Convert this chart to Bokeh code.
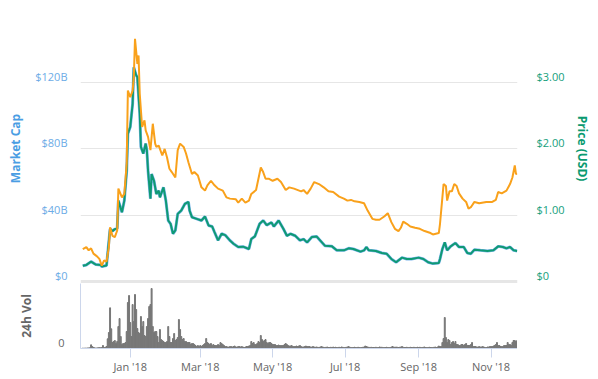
import pandas as pd
from bokeh.plotting import figure
from bokeh.models import Range1d, FixedTicker, DatetimeTickFormatter, Span, LinearAxis
from bokeh.layouts import column
from bokeh.embed import file_html
from bokeh.resources import INLINE

# ---------------- data ----------------
usd_dates = [
    "2017-11-22", "2017-11-25", "2017-11-29", "2017-12-03", "2017-12-07", "2017-12-08", "2017-12-12",
    "2017-12-15", "2017-12-17", "2017-12-19", "2017-12-21", "2017-12-22", "2017-12-25", "2017-12-27",
    "2017-12-29", "2017-12-30", "2018-01-01", "2018-01-03", "2018-01-04", "2018-01-06", "2018-01-07",
    "2018-01-09", "2018-01-10", "2018-01-12", "2018-01-14", "2018-01-15", "2018-01-16", "2018-01-18",
    "2018-01-19", "2018-01-21", "2018-01-23", "2018-01-25", "2018-01-26", "2018-01-29", "2018-01-31",
    "2018-02-02", "2018-02-04", "2018-02-06", "2018-02-08", "2018-02-10", "2018-02-13", "2018-02-16",
    "2018-02-19", "2018-02-20", "2018-02-22", "2018-02-26", "2018-03-02", "2018-03-05", "2018-03-08",
    "2018-03-11", "2018-03-13", "2018-03-16", "2018-03-19", "2018-03-22", "2018-03-26", "2018-03-29",
    "2018-04-02", "2018-04-06", "2018-04-11", "2018-04-13", "2018-04-16", "2018-04-20", "2018-04-23",
    "2018-04-26", "2018-04-30", "2018-05-02", "2018-05-06", "2018-05-10", "2018-05-13", "2018-05-16",
    "2018-05-20", "2018-05-24", "2018-05-27", "2018-05-30", "2018-06-03", "2018-06-07", "2018-06-10",
    "2018-06-14", "2018-06-20", "2018-06-24", "2018-06-30", "2018-07-04", "2018-07-08", "2018-07-14",
    "2018-07-17", "2018-07-19", "2018-07-21", "2018-07-27", "2018-08-01", "2018-08-05", "2018-08-09",
    "2018-08-13", "2018-08-18", "2018-08-22", "2018-08-26", "2018-09-01", "2018-09-05", "2018-09-09",
    "2018-09-13", "2018-09-18", "2018-09-19", "2018-09-21", "2018-09-23", "2018-09-25", "2018-09-28",
    "2018-10-02", "2018-10-05", "2018-10-09", "2018-10-12", "2018-10-15", "2018-10-18", "2018-10-23",
    "2018-10-29", "2018-11-03", "2018-11-07", "2018-11-11", "2018-11-14", "2018-11-17", "2018-11-20",
    "2018-11-23",
]
price_usd = [
    0.237, 0.25, 0.30, 0.255, 0.25, 0.226, 0.24,
    0.795, 0.76, 0.79, 0.80, 1.22, 1.045, 1.22,
    1.67, 2.23, 2.33, 2.68, 3.23, 3.11, 3.08,
    2.53, 2.03, 1.93, 2.08, 1.98, 1.67, 1.25,
    1.62, 1.52, 1.32, 1.37, 1.27, 1.42, 1.22,
    0.92, 0.87, 0.72, 0.77, 1.02, 1.07, 1.17,
    1.20, 1.07, 0.97, 0.945, 0.92, 0.98, 0.845,
    0.83, 0.745, 0.62, 0.72, 0.70, 0.62, 0.57,
    0.52, 0.525, 0.49, 0.64, 0.68, 0.87, 0.92,
    0.85, 0.89, 0.83, 0.92, 0.795, 0.69, 0.72,
    0.69, 0.62, 0.64, 0.59, 0.67, 0.68, 0.62,
    0.54, 0.53, 0.47, 0.47, 0.50, 0.49, 0.45,
    0.47, 0.52, 0.47, 0.46, 0.43, 0.42, 0.34,
    0.29, 0.36, 0.34, 0.34, 0.36, 0.34, 0.29,
    0.27, 0.28, 0.34, 0.49, 0.59, 0.47, 0.53,
    0.58, 0.52, 0.52, 0.43, 0.42, 0.48, 0.47,
    0.46, 0.47, 0.53, 0.52, 0.50, 0.52, 0.47,
    0.46,
]
# market cap, billions of USD (same dates)
market_cap = [
    9.5, 10.0, 12.0, 10.2, 10.0, 9.0, 9.6,
    31.8, 30.4, 31.6, 32.0, 48.8, 41.8, 48.8,
    66.8, 89.2, 93.2, 107.2, 129.2, 124.4, 123.2,
    101.2, 81.2, 77.2, 83.2, 79.2, 66.8, 50.0,
    64.8, 60.8, 52.8, 54.8, 50.8, 56.8, 48.8,
    36.8, 34.8, 28.8, 30.8, 40.8, 42.8, 46.8,
    48.0, 42.8, 38.8, 37.8, 36.8, 39.2, 33.8,
    33.2, 29.8, 24.8, 28.8, 28.0, 24.8, 22.8,
    20.8, 21.0, 19.6, 25.6, 27.2, 34.8, 36.8,
    34.0, 35.6, 33.2, 36.8, 31.8, 27.6, 28.8,
    27.6, 24.8, 25.6, 23.6, 26.8, 27.2, 24.8,
    21.6, 21.2, 18.8, 18.8, 20.0, 19.6, 18.0,
    18.8, 20.8, 18.8, 18.4, 17.2, 16.8, 13.6,
    11.6, 14.4, 13.6, 13.6, 14.4, 13.6, 11.6,
    10.8, 11.2, 13.6, 19.6, 23.6, 18.8, 21.2,
    23.2, 20.8, 20.8, 17.2, 16.8, 19.2, 18.8,
    18.4, 18.8, 21.2, 20.8, 20.0, 20.8, 18.8,
    18.4,
]

btc_dates = [
    "2017-11-22", "2017-11-25", "2017-11-27", "2017-11-29", "2017-12-01", "2017-12-04", "2017-12-06",
    "2017-12-08", "2017-12-10", "2017-12-12", "2017-12-14", "2017-12-15", "2017-12-17", "2017-12-19",
    "2017-12-21", "2017-12-22", "2017-12-25", "2017-12-27", "2017-12-29", "2017-12-30", "2018-01-01",
    "2018-01-03", "2018-01-04", "2018-01-05", "2018-01-07", "2018-01-08", "2018-01-09", "2018-01-11",
    "2018-01-13", "2018-01-14", "2018-01-16", "2018-01-18", "2018-01-20", "2018-01-22", "2018-01-23",
    "2018-01-25", "2018-01-28", "2018-01-30", "2018-02-01", "2018-02-03", "2018-02-05", "2018-02-08",
    "2018-02-10", "2018-02-12", "2018-02-15", "2018-02-17", "2018-02-19", "2018-02-22", "2018-02-24",
    "2018-02-27", "2018-03-02", "2018-03-05", "2018-03-07", "2018-03-10", "2018-03-13", "2018-03-16",
    "2018-03-20", "2018-03-23", "2018-03-26", "2018-03-31", "2018-04-02", "2018-04-05", "2018-04-08",
    "2018-04-11", "2018-04-13", "2018-04-17", "2018-04-19", "2018-04-21", "2018-04-23", "2018-04-25",
    "2018-04-28", "2018-05-01", "2018-05-05", "2018-05-08", "2018-05-12", "2018-05-15", "2018-05-19",
    "2018-05-25", "2018-05-27", "2018-05-30", "2018-06-02", "2018-06-05", "2018-06-09", "2018-06-13",
    "2018-06-17", "2018-06-21", "2018-06-26", "2018-06-30", "2018-07-03", "2018-07-06", "2018-07-09",
    "2018-07-13", "2018-07-17", "2018-07-20", "2018-07-24", "2018-07-27", "2018-07-30", "2018-08-03",
    "2018-08-06", "2018-08-09", "2018-08-12", "2018-08-15", "2018-08-17", "2018-08-19", "2018-08-22",
    "2018-08-25", "2018-08-29", "2018-09-02", "2018-09-06", "2018-09-11", "2018-09-13", "2018-09-18",
    "2018-09-19", "2018-09-21", "2018-09-22", "2018-09-24", "2018-09-25", "2018-09-27", "2018-09-29",
    "2018-10-01", "2018-10-03", "2018-10-05", "2018-10-08", "2018-10-11", "2018-10-13", "2018-10-15",
    "2018-10-18", "2018-10-22", "2018-10-28", "2018-11-02", "2018-11-05", "2018-11-07", "2018-11-10",
    "2018-11-14", "2018-11-17", "2018-11-19", "2018-11-21", "2018-11-22", "2018-11-23",
]
# price in satoshis (1e-8 BTC)
price_btc_sats = [
    2760, 2930, 2650, 2820, 2370, 2140, 1920,
    1350, 1800, 1690, 2930, 4620, 3890, 3780,
    4340, 7900, 7160, 7450, 10040, 16240, 15680,
    16240, 17370, 20640, 18500, 19230, 15960, 13140,
    13700, 12860, 12300, 11170, 13420, 11730, 11450,
    11560, 10720, 11280, 10550, 9590, 9310, 8850,
    11170, 11730, 11450, 10890, 10150, 9140, 9310,
    9020, 8010, 7730, 8180, 8570, 8180, 7900,
    7730, 7160, 7050, 6990, 6710, 7050, 6710,
    6880, 7450, 7780, 8740, 9700, 9310, 8740,
    8740, 8570, 8740, 8460, 7780, 8010, 7900,
    7670, 7780, 7450, 7900, 8460, 8290, 8010,
    7670, 7610, 7220, 7050, 6880, 6940, 6820,
    6770, 6660, 6030, 5330, 5250, 5250, 5530,
    5810, 5050, 4480, 4290, 4570, 5100, 4910,
    4680, 4570, 4480, 4290, 4120, 4000, 4120,
    4910, 7160, 8290, 8120, 6880, 7670, 7670,
    8290, 8120, 7500, 7050, 6770, 6200, 6320,
    6770, 6660, 6770, 6770, 6940, 7610, 7500,
    7730, 8290, 8850, 9870, 9140, 9190,
]

# 24h volume, millions of USD, one value per day; each month starts at the given date
vol_2017_11 = [60, 50, 80, 60, 80, 100, 130, 590, 320]
vol_2017_12 = [160, 110, 80, 100, 130, 140, 110, 160, 480, 160, 190, 320, 1550, 2560, 6510, 3150,
               960, 1120, 1280, 800, 1120, 3520, 4800, 1920, 640, 800, 800, 960, 2720, 7360, 8480]
vol_2018_01 = [4160, 1920, 7040, 4320, 8640, 6240, 3200, 2560, 2400, 5120, 3520, 4320, 2080, 1920,
               3520, 4800, 6720, 7040, 9600, 3520, 2560, 2720, 2720, 1920, 960, 3040, 1440, 1280,
               1120, 960, 960]
vol_2018_02 = [1120, 3520, 1920, 960, 960, 1600, 2400, 1280, 1440, 1760, 4640, 3040, 1920, 1440,
               1600, 1120, 1120, 960, 960, 960, 640, 800, 800, 640, 480, 320, 480, 320]
vol_2018_03 = [480, 320, 480, 640, 800, 1600, 960, 800, 640, 800, 480, 640, 480, 480, 480, 640,
               480, 960, 800, 640, 480, 320, 320, 240, 240, 320, 320, 240, 320, 400, 240]
vol_2018_04 = [240, 320, 320, 240, 320, 240, 160, 240, 320, 320, 400, 480, 1120, 800, 960, 640,
               640, 800, 1120, 960, 2080, 1440, 1120, 1280, 1440, 960, 800, 960, 960, 800]
vol_2018_05 = [640, 640, 640, 480, 480, 560, 480, 480, 480, 480, 640, 800, 640, 480, 400, 400,
               480, 320, 320, 320, 400, 320, 400, 480, 320, 240, 240, 320, 400, 320, 320]
vol_2018_06 = [320, 240, 240, 320, 240, 200, 240, 200, 160, 240, 320, 240, 200, 160, 200, 240,
               160, 160, 200, 160, 240, 160, 200, 160, 160, 200, 160, 240, 200, 160]
vol_2018_07 = [160, 200, 240, 320, 200, 160, 160, 160, 200, 160, 160, 200, 160, 120, 160, 200,
               240, 400, 320, 240, 200, 160, 200, 160, 160, 160, 200, 160, 160, 240, 200]
vol_2018_08 = [200, 160, 160, 160, 200, 160, 160, 160, 240, 320, 240, 200, 240, 200, 160, 200,
               240, 320, 200, 160, 160, 200, 160, 160, 200, 160, 160, 200, 160, 160, 200]
vol_2018_09 = [160, 200, 160, 160, 200, 240, 160, 160, 160, 200, 160, 160, 160, 200, 240, 160,
               240, 400, 320, 320, 960, 1600, 4960, 1760, 960, 1440, 1280, 640, 960, 1120]
vol_2018_10 = [800, 1120, 640, 640, 480, 480, 640, 640, 480, 640, 800, 480, 480, 480, 640, 960,
               320, 320, 320, 240, 240, 320, 240, 240, 320, 240, 160, 160, 240, 240, 320]
vol_2018_11 = [320, 320, 400, 480, 640, 960, 480, 480, 320, 320, 320, 480, 480, 480, 960, 640,
               640, 480, 960, 1280, 1280, 1120, 1280]
vol_months = [("2017-11-22", vol_2017_11), ("2017-12-01", vol_2017_12), ("2018-01-01", vol_2018_01),
              ("2018-02-01", vol_2018_02), ("2018-03-01", vol_2018_03), ("2018-04-01", vol_2018_04),
              ("2018-05-01", vol_2018_05), ("2018-06-01", vol_2018_06), ("2018-07-01", vol_2018_07),
              ("2018-08-01", vol_2018_08), ("2018-09-01", vol_2018_09), ("2018-10-01", vol_2018_10),
              ("2018-11-01", vol_2018_11)]

mcap_ticks = [0, 40, 80, 120]
mcap_tick_labels = ["$0", "$40B", "$80B", "$120B"]
price_ticks = [0, 1, 2, 3]
price_tick_labels = ["$0", "$1.00", "$2.00", "$3.00"]
vol_ticks = [0]
vol_tick_labels = ["0"]
month_ticks = ["2018-01-01", "2018-03-01", "2018-05-01", "2018-07-01", "2018-09-01", "2018-11-01"]
month_tick_labels = ["Jan '18", "Mar '18", "May '18", "Jul '18", "Sep '18", "Nov '18"]

# ---------------- geometry / style ----------------
FONT = "Open Sans"
FRAME_W = 437
PX_PER_USD = 66.3            # vertical pixels per $1.00 (= per $40B)
TOP_FRAME_H = 270            # frame spans 2px below the $0 line
VOL_FRAME_H = 65
X_START = pd.Timestamp("2017-11-20 02:00")
X_END = pd.Timestamp("2018-11-23 07:00")
USD_START = -2 / PX_PER_USD
USD_END = (TOP_FRAME_H - 2) / PX_PER_USD
LIFT_USD = 6 / PX_PER_USD    # tick labels sit just above their grid line
VOL_TOP = 10400
LIFT_VOL = 6 / VOL_FRAME_H * VOL_TOP

usd_dt = pd.to_datetime(usd_dates)
btc_dt = pd.to_datetime(btc_dates)
vol_dt, vol_vals = [], []
for start, vals in vol_months:
    vol_dt.extend(pd.date_range(start, periods=len(vals), freq="D"))
    vol_vals.extend(vals)

xr = Range1d(X_START, X_END)

# ---------------- top panel ----------------
p = figure(frame_width=FRAME_W, frame_height=TOP_FRAME_H, x_axis_type="datetime", x_range=xr,
           y_range=Range1d(USD_START * 40, USD_END * 40), output_backend="svg", toolbar_location=None,
           x_axis_location=None, min_border_left=80, min_border_right=0, min_border_top=13,
           min_border_bottom=0)
p.outline_line_color = None
p.extra_y_ranges = {"usd": Range1d(USD_START, USD_END),
                    "btc": Range1d(USD_START * 5640, USD_END * 5640)}
for g in p.grid:
    if g.dimension == 0:
        g.visible = False
    else:
        g.ticker = FixedTicker(ticks=mcap_ticks[1:])
        g.grid_line_color = "#e6e6e6"

ly = p.yaxis[0]
lt = [t + LIFT_USD * 40 for t in mcap_ticks]
ly.ticker = FixedTicker(ticks=lt)
ly.major_label_overrides = dict(zip(lt, mcap_tick_labels))
ly.axis_label = "Market Cap"

rt = [t + LIFT_USD for t in price_ticks]
ry = LinearAxis(y_range_name="usd", ticker=FixedTicker(ticks=rt),
                major_label_overrides=dict(zip(rt, price_tick_labels)), axis_label="Price (USD)")
p.add_layout(ry, "right")

for ax, tcol, lcol, s1, s2 in ((ly, "#6cabe6", "#4a9de3", 13, 8), (ry, "#16a07c", "#0a9a70", 19, 6)):
    ax.axis_line_color = None
    ax.major_tick_line_color = None
    ax.minor_tick_line_color = None
    ax.major_tick_out = 0
    ax.major_tick_in = 0
    ax.major_label_standoff = s1
    ax.major_label_text_font = FONT
    ax.major_label_text_font_size = "11px"
    ax.major_label_text_color = tcol
    ax.axis_label_text_font = FONT
    ax.axis_label_text_font_size = "12px"
    ax.axis_label_text_font_style = "bold"
    ax.axis_label_text_color = lcol
    ax.axis_label_standoff = s2

p.line(usd_dt, market_cap, color="#7cb5ec", line_width=3)
p.line(usd_dt, price_usd, y_range_name="usd", color="#0f9a74", line_width=2)
p.line(btc_dt, price_btc_sats, y_range_name="btc", color="#f9a11b", line_width=2)
p.add_layout(Span(location=0, dimension="width", line_color="#e6e6e6", line_width=3))

# ---------------- volume panel ----------------
v = figure(frame_width=FRAME_W, frame_height=VOL_FRAME_H, x_axis_type="datetime", x_range=xr,
           y_range=Range1d(0, VOL_TOP), output_backend="svg", toolbar_location=None,
           min_border_left=80, min_border_right=0, min_border_top=0, min_border_bottom=24)
v.outline_line_color = None
v.grid.visible = False
v.vbar(x=vol_dt, top=vol_vals, width=0.8 * 86400000, color="#777777")

vx = v.xaxis[0]
month_ms = [pd.Timestamp(d).value // 10**6 for d in month_ticks]
vx.ticker = FixedTicker(ticks=month_ms)
vx.formatter = DatetimeTickFormatter(days="%b '%y", months="%b '%y", years="%b '%y")
vx.major_label_overrides = dict(zip(month_ms, month_tick_labels))
vx.axis_line_color = "#ccd6eb"
vx.major_tick_line_color = "#ccd6eb"
vx.minor_tick_line_color = None
vx.major_tick_out = 9
vx.major_tick_in = 0
vx.major_label_standoff = 1
vx.major_label_text_font = FONT
vx.major_label_text_font_size = "11px"
vx.major_label_text_color = "#666666"

vy = v.yaxis[0]
vt = [t + LIFT_VOL for t in vol_ticks]
vy.ticker = FixedTicker(ticks=vt)
vy.major_label_overrides = dict(zip(vt, vol_tick_labels))
vy.axis_line_color = "#ccd6eb"
vy.major_tick_line_color = None
vy.minor_tick_line_color = None
vy.major_tick_out = 0
vy.major_tick_in = 0
vy.major_label_standoff = 16
vy.major_label_text_font = FONT
vy.major_label_text_font_size = "11px"
vy.major_label_text_color = "#666666"
vy.axis_label = "24h Vol"
vy.axis_label_text_font = FONT
vy.axis_label_text_font_size = "12px"
vy.axis_label_text_font_style = "bold"
vy.axis_label_text_color = "#666666"
vy.axis_label_standoff = 20

layout = column(p, v, spacing=0)
open("out.html", "w").write(file_html(layout, INLINE))
